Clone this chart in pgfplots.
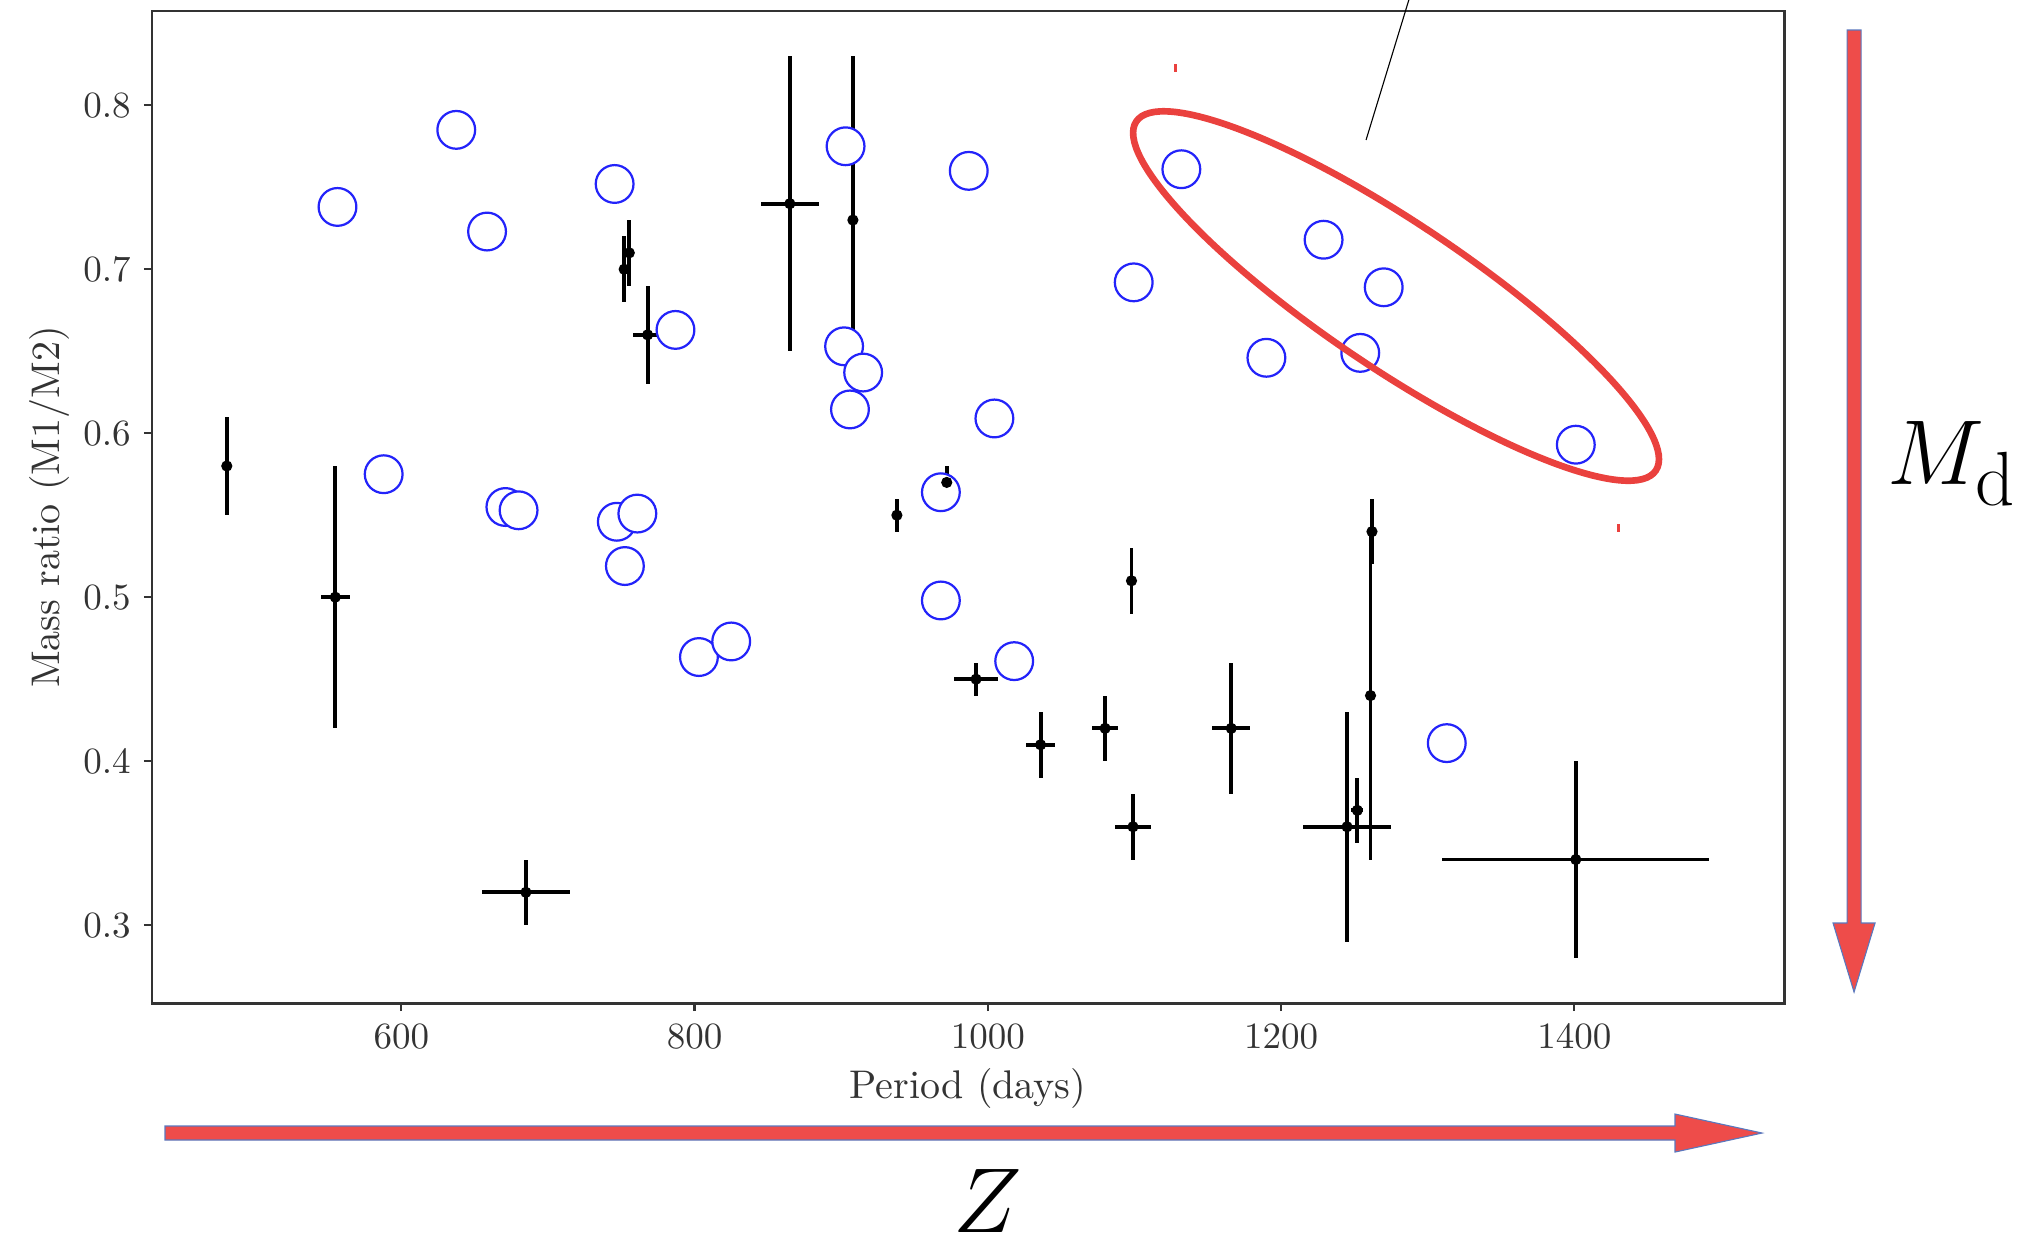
\documentclass[border=0pt]{standalone}
\usepackage{pgfplots}
\pgfplotsset{compat=1.18}
\definecolor{arrowred}{RGB}{238,76,74}
\definecolor{arrowedge}{RGB}{90,120,190}
\definecolor{ellred}{RGB}{234,65,62}
\definecolor{circblue}{RGB}{35,35,250}

\pgfplotstableread{
x     y     ex   eyp   eym
481   0.58  0    0.03  0.03
555   0.50  10   0.08  0.08
685   0.32  30   0.02  0.02
752   0.70  0    0.02  0.02
755.5 0.71  0    0.02  0.02
768   0.66  10   0.03  0.03
865   0.74  20   0.09  0.09
908   0.73  0    0.10  0.10
938   0.55  0    0.01  0.01
992   0.45  15   0.01  0.01
1036  0.41  10   0.02  0.02
1080  0.42  9    0.02  0.02
1098  0.51  3    0.02  0.02
1099  0.36  12   0.02  0.02
1166  0.42  13   0.04  0.04
1245  0.36  30   0.07  0.07
1252  0.37  4    0.02  0.02
1262  0.54  0    0.02  0.02
1261  0.44  0    0.10  0.10
1401  0.34  91   0.06  0.06
}\errdata

\pgfplotstableread{
x     y     ex   eyp   eym
972   0.57  0    0.01  0.01
}\errdatatop

\pgfplotstableread{
x      y
556.5  0.738
637.5  0.785
658.5  0.723
588    0.575
671    0.555
680    0.553
745.5  0.752
747    0.546
761    0.551
752.5  0.519
787    0.663
803    0.4635
825    0.473
903    0.775
902    0.653
915    0.637
906    0.6145
987    0.760
968    0.564
968    0.498
1004.5 0.609
1018   0.461
1099.5 0.692
1132   0.761
1190   0.646
1229   0.718
1270   0.689
1254   0.649
1401   0.593
1313   0.411
}\circdata

\begin{document}
\begin{tikzpicture}
\useasboundingbox (0,0) rectangle (545.4pt,-335.07pt);
\begin{axis}[
  at={(41.04pt,-270.81pt)}, anchor=south west,
  width=440.64pt, height=267.84pt, scale only axis,
  xmin=430, xmax=1543, ymin=0.2525, ymax=0.8575,
  xtick={600,800,1000,1200,1400},
  ytick={0.3,0.4,0.5,0.6,0.7,0.8},
  yticklabel style={/pgf/number format/.cd, fixed, precision=1, fixed zerofill},
  xticklabel style={/pgf/number format/.cd, set thousands separator={}},
  tick align=outside, major tick length=2.2pt, tick pos=left,
  axis line style={line width=0.8pt, black!80},
  tick style={line width=0.6pt, black!80},
  ticklabel style={font=\fontsize{10}{12}\selectfont, text=black!80},
  xlabel={Period (days)}, ylabel={Mass ratio (M1/M2)},
  label style={font=\fontsize{10.8}{13}\selectfont, text=black!80},
  xlabel style={at={(axis description cs:0.5,-0.0866)}, anchor=center},
  ylabel style={at={(axis description cs:-0.0631,0.5)}, anchor=center},
]
\addplot[only marks, mark=*, mark size=1.3pt, black,
  error bars/.cd, x dir=both, x explicit, y dir=both, y explicit,
  error mark=none, error bar style={line width=1.05pt, black}]
  table[x=x, y=y, x error plus=ex, x error minus=ex, y error plus=eyp, y error minus=eym] {\errdata};
\addplot[only marks, mark=*, mark size=5.1pt,
  mark options={draw=circblue, fill=white, line width=0.6pt}]
  table[x=x, y=y] {\circdata};
\addplot[only marks, mark=*, mark size=1.3pt, black,
  error bars/.cd, x dir=both, x explicit, y dir=both, y explicit,
  error mark=none, error bar style={line width=1.05pt, black}]
  table[x=x, y=y, x error plus=ex, x error minus=ex, y error plus=eyp, y error minus=eym] {\errdatatop};
\end{axis}
\begin{scope}[x=0.27pt,y=-0.27pt]
  \draw[ellred, line width=1.8pt, rotate around={-33.9:(1396,296)}] (1396,296) ellipse [x radius=84.5pt, y radius=19.6pt];
  \draw[black, line width=0.3pt] (1366,140) -- (1410,-4);
  \draw[ellred, line width=0.8pt] (1175,64) -- (1175,72);
  \draw[ellred, line width=0.8pt] (1618,524) -- (1618,532);
  \filldraw[fill=arrowred, draw=arrowedge, line width=0.3pt]
    (165,1126) -- (1675,1126) -- (1675,1114) -- (1762,1133) -- (1675,1152) -- (1675,1140) -- (165,1140) -- cycle;
  \filldraw[fill=arrowred, draw=arrowedge, line width=0.3pt]
    (1847,30) -- (1861,30) -- (1861,923) -- (1875,923) -- (1854,992) -- (1833,923) -- (1847,923) -- cycle;
  \node[anchor=base, inner sep=0pt, font=\fontsize{24.88}{30}\selectfont] at (988,1232) {$Z$};
  \node[anchor=base west, inner sep=0pt, font=\fontsize{24.88}{30}\selectfont] at (1887,484) {$M_{\mathrm{d}}$};
\end{scope}
\end{tikzpicture}
\end{document}
